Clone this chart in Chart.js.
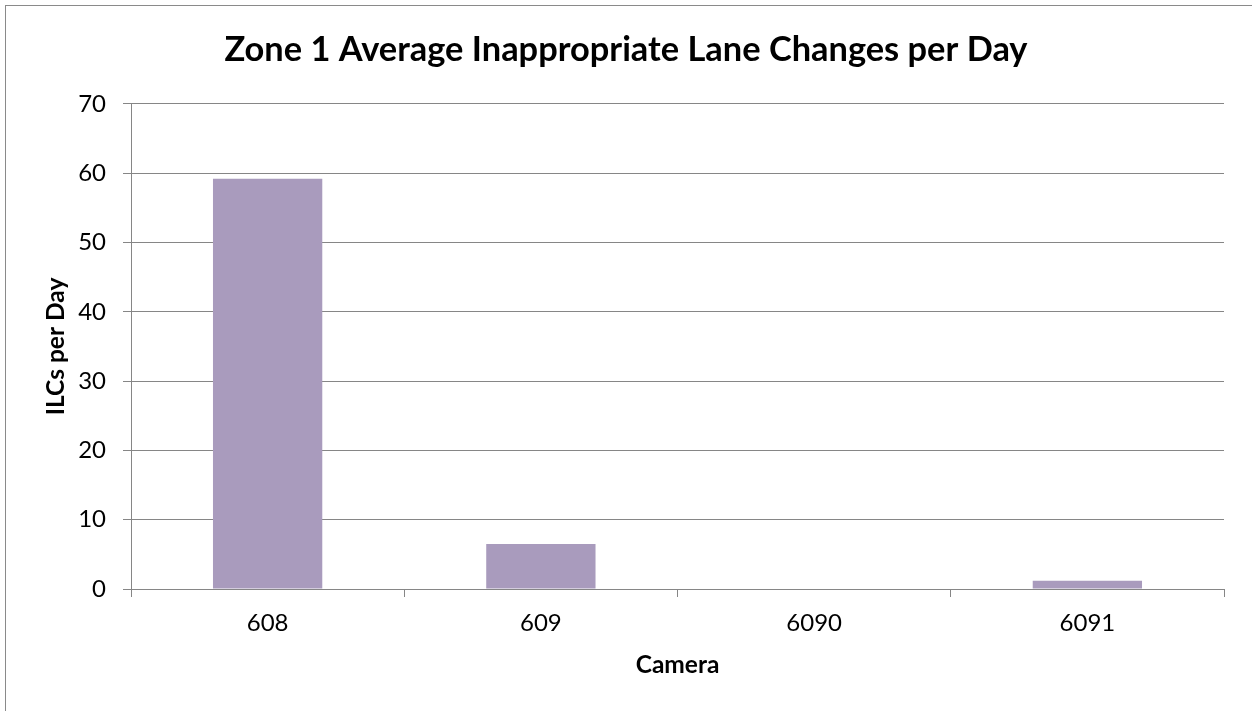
<!DOCTYPE html>
<html>
<head>
<meta charset="utf-8">
<script src="https://cdn.jsdelivr.net/npm/chart.js@4"></script>
<style>
  html, body { margin: 0; padding: 0; background: #fff; overflow: hidden; }
  #wrap { position: relative; width: 1252px; height: 711px; }
  #frame { position: absolute; left: 5px; top: 5px; width: 1400px; height: 900px; border: 1px solid #8a8a8a; pointer-events: none; }
  canvas { position: absolute; left: 0; top: 0; }
</style>
</head>
<body>
<div id="wrap">
  <canvas id="c" width="1252" height="711"></canvas>
  <div id="frame"></div>
</div>
<script>
const categories = ["608", "609", "6090", "6091"];
const ilcsPerDay = [59.2, 6.5, 0, 1.2];
const yTicks = [0, 10, 20, 30, 40, 50, 60, 70];

const FONT = "Lato, 'Open Sans', sans-serif";
const GRID = "#868686";

new Chart(document.getElementById("c"), {
  type: "bar",
  data: {
    labels: categories,
    datasets: [{
      label: "ILCs per Day",
      data: ilcsPerDay,
      backgroundColor: "#A99BBD",
      borderWidth: 0,
      categoryPercentage: 1.0,
      barPercentage: 0.4
    }]
  },
  options: {
    responsive: false,
    animation: false,
    devicePixelRatio: 1,
    layout: { padding: { left: 0, right: 0, top: 0, bottom: 0 } },
    plugins: {
      legend: { display: false },
      tooltip: { enabled: false },
      title: {
        display: true,
        text: "Zone 1 Average Inappropriate Lane Changes per Day",
        color: "#000",
        font: { family: FONT, size: 34.4, weight: "bold" },
        padding: { top: 29.4, bottom: 33.3 }
      }
    },
    scales: {
      x: {
        type: "category",
        grid: { display: true, drawOnChartArea: false, drawTicks: true, tickLength: 8, color: GRID, offset: true },
        border: { display: true, color: GRID, width: 1 },
        ticks: { color: "#000", font: { family: FONT, size: 24 }, padding: 12, maxRotation: 0 },
        title: { display: true, text: "Camera", color: "#000", font: { family: FONT, size: 24.5, weight: "bold" }, padding: { top: 0, bottom: 31 } },
        afterFit: (s) => { s.height = 711 - 589; }
      },
      y: {
        min: 0, max: 70,
        afterBuildTicks: (s) => { s.ticks = yTicks.map(v => ({ value: v })); },
        grid: { color: GRID, tickLength: 8, drawTicks: true },
        border: { display: true, color: GRID, width: 1 },
        ticks: { color: "#000", font: { family: FONT, size: 24 }, padding: 17 },
        title: { display: true, text: "ILCs per Day", color: "#000", font: { family: FONT, size: 24.5, weight: "bold" }, padding: { top: 41, bottom: 0 } },
        afterFit: (s) => { s.width = 131; }
      },
      yRight: {
        position: "right",
        display: true,
        grid: { display: false },
        border: { display: false },
        ticks: { display: false },
        afterFit: (s) => { s.width = 1252 - 1224; }
      }
    }
  }
});
</script>
</body>
</html>
